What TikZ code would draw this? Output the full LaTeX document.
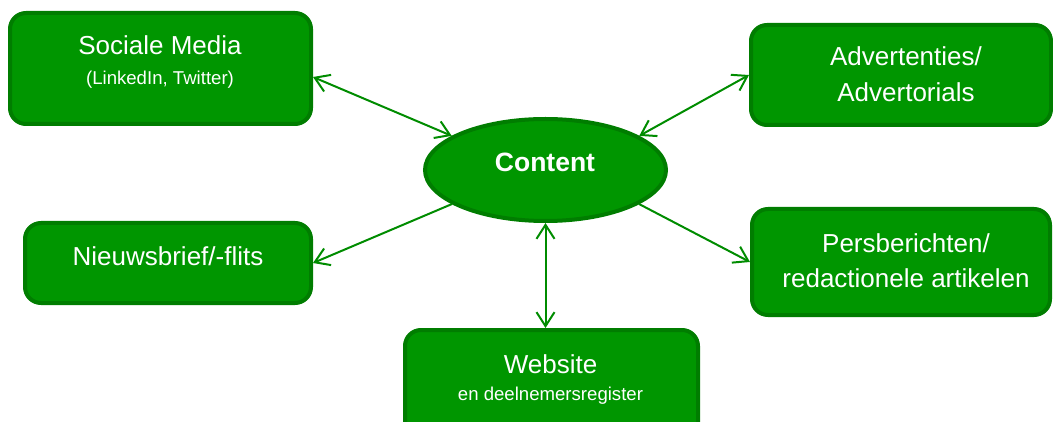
\documentclass[tikz,border=0pt]{standalone}
\usepackage{fontspec}
\setmainfont{Liberation Sans}
\usepackage{tikz}
\usetikzlibrary{positioning}
\usetikzlibrary{shapes}
\usetikzlibrary{arrows.meta}

\definecolor{boxFill}{RGB}{0,150,0}
\definecolor{boxBorder}{RGB}{0,125,0}
\definecolor{arrowGreen}{RGB}{0,140,0}

\begin{document}
\begin{tikzpicture}[x=1pt, y=1pt,
		greenBox/.style={rectangle, draw=boxBorder, fill=boxFill, line width=4pt, rounded corners=16pt},
		bigText/.style={text=white, anchor=base, inner sep=0pt, font=\fontsize{26}{36}\selectfont},
		smallText/.style={bigText, font=\fontsize{18.6}{22}\selectfont},
		link/.style={draw=arrowGreen, line width=2pt, -{Straight Barb[length=14pt, width=18pt]}},
		biLink/.style={link, {Straight Barb[length=14pt, width=18pt]}-{Straight Barb[length=14pt, width=18pt]}}]
		\useasboundingbox (0,0) rectangle (1053,421);
		% boxes
		\node[ellipse, draw=boxBorder, fill=boxFill, line width=4pt, minimum width=241pt, minimum height=102pt](contentEllipse) at (545.5,251){};
		\node[greenBox, minimum width=301pt, minimum height=111pt](socialBox) at (160.5,352.5){};
		\node[greenBox, minimum width=300pt, minimum height=100pt](advertBox) at (901,346){};
		\node[greenBox, minimum width=286pt, minimum height=80pt](newsBox) at (168,158){};
		\node[greenBox, minimum width=298pt, minimum height=106pt](pressBox) at (901,159){};
		\node[greenBox, minimum width=293pt, minimum height=110pt](websiteBox) at (551.5,36){};
		% texts
		\node[bigText, font=\bfseries\fontsize{26.5}{32}\selectfont](contentLabel) at (545,249){Content};
		\node[bigText](socialTitle) at (160,366){Sociale Media};
		\node[smallText](socialSub) at (160,336){(LinkedIn, Twitter)};
		\node[bigText](advertTitle) at (906,355){Advertenties/};
		\node[bigText](advertSub) at (906,319){Advertorials};
		\node[bigText](newsTitle) at (168,156){Nieuwsbrief/-flits};
		\node[bigText](pressTitle) at (906,168){Persberichten/};
		\node[bigText](pressSub) at (906,134){redactionele artikelen};
		\node[bigText](websiteTitle) at (550.5,48){Website};
		\node[smallText](websiteSub) at (550.5,21){en deelnemersregister};
		% arrows
		\draw[biLink] ([yshift=-8.5pt]socialBox.east) -- (contentEllipse.160);
		\draw[biLink] (advertBox.west) -- (contentEllipse.20);
		\draw[link] (contentEllipse.200) -- (newsBox.east);
		\draw[link] (contentEllipse.340) -- (pressBox.west);
		\draw[biLink] (contentEllipse.south) -- (contentEllipse.south |- websiteBox.north);
	\end{tikzpicture}
\end{document}
